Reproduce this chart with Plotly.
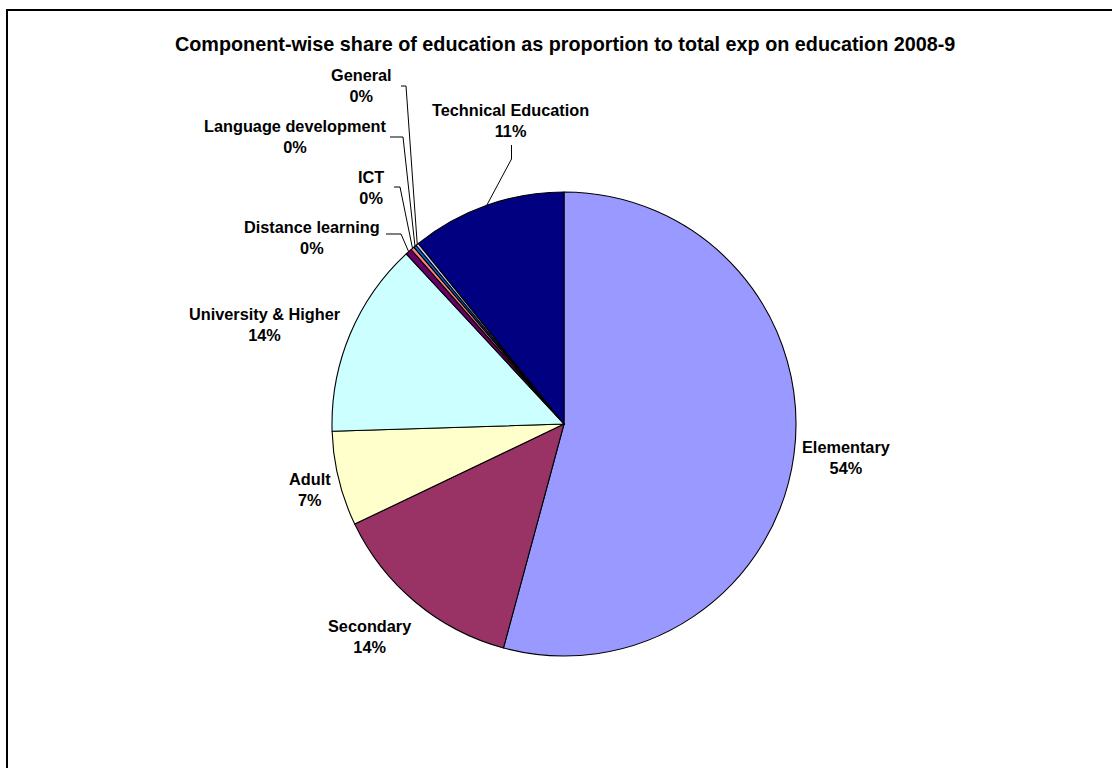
import math
import plotly.graph_objects as go

# Share of each education component in total expenditure on education, 2008-9 (%)
categories = [
    "Elementary", "Secondary", "Adult", "University & Higher",
    "Distance learning", "ICT", "Language development", "General",
    "Technical Education",
]
values = [54.2, 13.7, 6.6, 13.6, 0.45, 0.25, 0.2, 0.2, 10.8]
colors = [
    "#9999FF", "#993366", "#FFFFCC", "#CCFFFF",
    "#660066", "#FF8080", "#0066CC", "#CCCCFF", "#000080",
]

TITLE = "Component-wise share of education as proportion to total exp on education 2008-9"

W, H = 1112, 768
CX, CY, R = 564, 424, 232
FONT = "Liberation Sans, Arial, sans-serif"


def px(x):
    return x / W


def py(y):
    return 1 - y / H


# label centres (pixels) and leader-line elbows for the labels that need them
label_pos = {
    "Elementary": (846, 457),
    "Secondary": (369, 636),
    "Adult": (310, 489),
    "University & Higher": (265, 325),
    "Distance learning": (312, 237),
    "ICT": (371, 187),
    "Language development": (295, 137),
    "General": (361, 86),
    "Technical Education": (511, 120),
}
leader_elbows = {
    "Distance learning": [(386, 234), (401, 234)],
    "ICT": [(394, 187), (400, 187)],
    "Language development": [(390, 137), (403, 137)],
    "General": [(401, 86), (406, 86)],
    "Technical Education": [(511.5, 145), (511.5, 159)],
}

total = sum(values)

fig = go.Figure(
    go.Pie(
        labels=categories,
        values=values,
        sort=False,
        direction="clockwise",
        rotation=0,
        marker=dict(colors=colors, line=dict(color="black", width=1.1)),
        textinfo="none",
        hoverinfo="label+percent",
        showlegend=False,
        domain=dict(x=[px(CX - R), px(CX + R)], y=[py(CY + R), py(CY - R)]),
    )
)

annotations = []
shapes = []

# outer chart frame
shapes.append(dict(
    type="rect", xref="paper", yref="paper",
    x0=px(7), y0=py(10), x1=px(W + 10), y1=py(H + 10),
    line=dict(color="black", width=2), fillcolor="rgba(0,0,0,0)",
))

cum = 0.0
for name, v in zip(categories, values):
    mid = 2 * math.pi * (cum + v / 2) / total
    cum += v
    lx, ly = label_pos[name]
    pct = round(100 * v / total)
    annotations.append(dict(
        x=px(lx), y=py(ly), xref="paper", yref="paper",
        text=f"<b>{name}</b><br><b>{pct}%</b>",
        showarrow=False, xanchor="center", yanchor="middle",
        font=dict(family=FONT, size=16.3, color="black"),
    ))
    if name in leader_elbows:
        ex = CX + R * math.sin(mid)
        ey = CY - R * math.cos(mid)
        pts = leader_elbows[name] + [(ex, ey)]
        path = "M " + " L ".join(f"{px(x)},{py(y)}" for x, y in pts)
        shapes.append(dict(
            type="path", xref="paper", yref="paper", path=path,
            line=dict(color="black", width=1),
        ))

annotations.append(dict(
    x=px(565), y=py(44), xref="paper", yref="paper",
    text=f"<b>{TITLE}</b>", showarrow=False,
    xanchor="center", yanchor="middle",
    font=dict(family=FONT, size=19.8, color="black"),
))

fig.update_layout(
    width=W, height=H,
    margin=dict(l=0, r=0, t=0, b=0),
    paper_bgcolor="white", plot_bgcolor="white",
    annotations=annotations, shapes=shapes,
)

fig.write_html("out.html")
